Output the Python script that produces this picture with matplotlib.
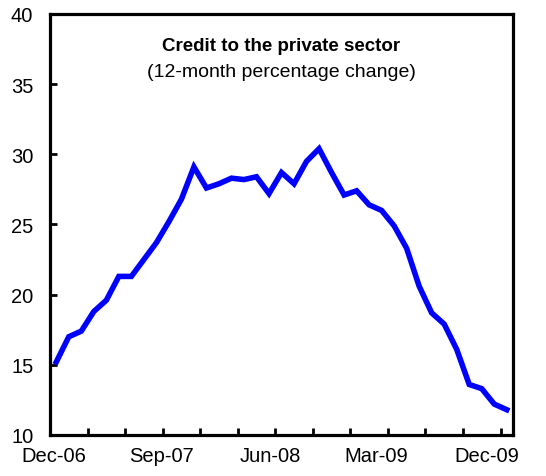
import matplotlib
matplotlib.use("Agg")
import matplotlib.pyplot as plt
import numpy as np

plt.rcParams['font.family'] = ['Liberation Sans', 'DejaVu Sans']

# Credito al sector privado, variacion 12 meses, dic-06 a dic-09 (mensual)
meses = ['Dec-06', 'Jan-07', 'Feb-07', 'Mar-07', 'Apr-07', 'May-07', 'Jun-07',
         'Jul-07', 'Aug-07', 'Sep-07', 'Oct-07', 'Nov-07', 'Dec-07', 'Jan-08',
         'Feb-08', 'Mar-08', 'Apr-08', 'May-08', 'Jun-08', 'Jul-08', 'Aug-08',
         'Sep-08', 'Oct-08', 'Nov-08', 'Dec-08', 'Jan-09', 'Feb-09', 'Mar-09',
         'Apr-09', 'May-09', 'Jun-09', 'Jul-09', 'Aug-09', 'Sep-09', 'Oct-09',
         'Nov-09', 'Dec-09']
credito = [15.2, 17.0, 17.4, 18.8, 19.6, 21.3, 21.3, 22.5, 23.7, 25.2,
           26.8, 29.1, 27.6, 27.9, 28.3, 28.2, 28.4, 27.2, 28.7, 27.9,
           29.5, 30.4, 28.7, 27.1, 27.4, 26.4, 26.0, 24.9, 23.3, 20.6,
           18.7, 17.9, 16.1, 13.6, 13.3, 12.2, 11.8]
etiquetas = ['Dec-06', 'Sep-07', 'Jun-08', 'Mar-09', 'Dec-09']
pos_etiquetas = [-0.2, 8.4, 17.1, 25.6, 34.4]

x = np.arange(len(credito))

fig = plt.figure(figsize=(5.46, 4.77), dpi=100)
ax = fig.add_axes([0.0916, 0.086, 0.848, 0.8826])

ax.plot(x, credito, color='#0000ff', linewidth=4, solid_joinstyle='miter')

ax.set_xlim(-0.5, len(credito) - 0.5)
ax.set_ylim(10, 40)
ax.set_yticks(np.arange(10, 41, 5))

# marcas cada trimestre, etiquetas cada 9 meses
ax.set_xticks(np.arange(2.5, len(credito) - 0.5, 3))
ax.set_xticklabels([])
ax.set_xticks(pos_etiquetas, minor=True)
ax.set_xticklabels(etiquetas, minor=True)

ax.tick_params(axis='x', which='major', direction='in', length=5, width=2)
ax.tick_params(axis='x', which='minor', length=0, pad=8, labelsize=14.5)
ax.tick_params(axis='y', direction='in', length=5, width=2, pad=12, labelsize=14.5)

for s in ax.spines.values():
    s.set_linewidth(2.3)

ax.text(0.5, 0.925, 'Credit to the private sector', transform=ax.transAxes,
        ha='center', va='center', fontsize=13.5, fontweight='bold')
ax.text(0.5, 0.864, '(12-month percentage change)', transform=ax.transAxes,
        ha='center', va='center', fontsize=14)

fig.savefig('out.png', dpi=100)
